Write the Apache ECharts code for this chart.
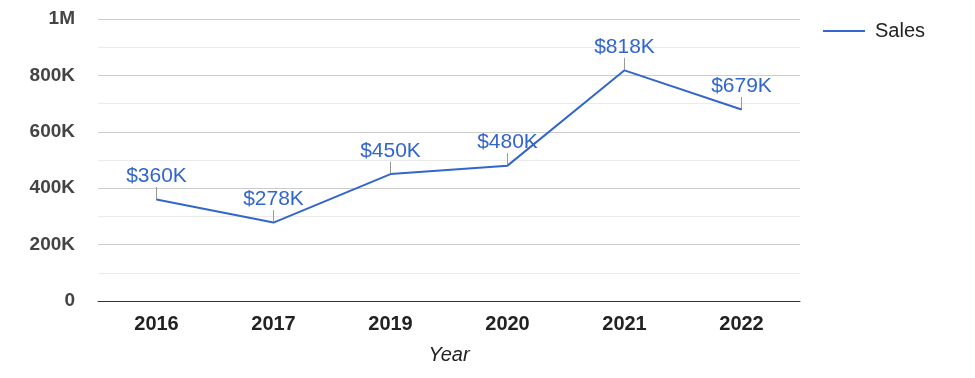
<!DOCTYPE html>
<html>
<head>
<meta charset="utf-8">
<script src="https://cdn.jsdelivr.net/npm/echarts@6/dist/echarts.min.js"></script>
<style>
  html, body { margin: 0; padding: 0; background: #fff; }
  #chart { width: 975px; height: 378px; }
</style>
</head>
<body>
<div id="chart"></div>
<script>
var years = ['2016', '2017', '2019', '2020', '2021', '2022'];
var sales = [360000, 278000, 450000, 480000, 818000, 679000];
var salesLabels = ['$360K', '$278K', '$450K', '$480K', '$818K', '$679K'];

var chart = echarts.init(document.getElementById('chart'));

// y轴刻度文字
function yLabel(v) {
  if (v === 0) return '0';
  if (v >= 1000000) return (v / 1000000) + 'M';
  return (v / 1000) + 'K';
}

var option = {
  animation: false,
  textStyle: { fontFamily: 'Liberation Sans, Arial, sans-serif' },
  grid: { left: 98, right: 175, top: 19, bottom: 77 },
  legend: {
    left: 818,
    top: 16,
    itemWidth: 42,
    itemHeight: 2,
    itemGap: 10,
    textStyle: { fontSize: 20, color: '#222', padding: [0, 0, 0, 5] },
    data: [{ name: 'Sales', icon: 'rect' }]
  },
  xAxis: {
    type: 'category',
    data: years,
    boundaryGap: true,
    name: 'Year',
    nameLocation: 'middle',
    nameGap: 44,
    nameTextStyle: { fontSize: 20, fontStyle: 'italic', color: '#222' },
    axisLine: { lineStyle: { color: '#333', width: 1 } },
    axisTick: { show: false },
    axisLabel: { fontSize: 20, fontWeight: 'bold', color: '#222', margin: 13 }
  },
  yAxis: {
    type: 'value',
    min: 0,
    max: 1000000,
    interval: 200000,
    axisLine: { show: false },
    axisTick: { show: false },
    axisLabel: { fontSize: 19, fontWeight: 'bold', color: '#444', margin: 23, formatter: yLabel },
    splitLine: { lineStyle: { color: '#cccccc' } },
    minorTick: { show: false, splitNumber: 2 },
    minorSplitLine: { show: true, lineStyle: { color: '#ebebeb' } }
  },
  series: [{
    name: 'Sales',
    type: 'line',
    data: sales,
    symbol: 'circle',
    symbolSize: 1,
    showSymbol: true,
    lineStyle: { color: '#3366cc', width: 2 },
    itemStyle: { color: '#3366cc' },
    label: {
      show: true,
      position: 'top',
      distance: 2,
      fontSize: 21,
      color: '#3366cc',
      formatter: function (p) { return salesLabels[p.dataIndex]; }
    },
    labelLayout: { dy: -10 },
    labelLine: { show: true, lineStyle: { color: '#999', width: 1 } }
  }]
};
chart.setOption(option);
</script>
</body>
</html>
